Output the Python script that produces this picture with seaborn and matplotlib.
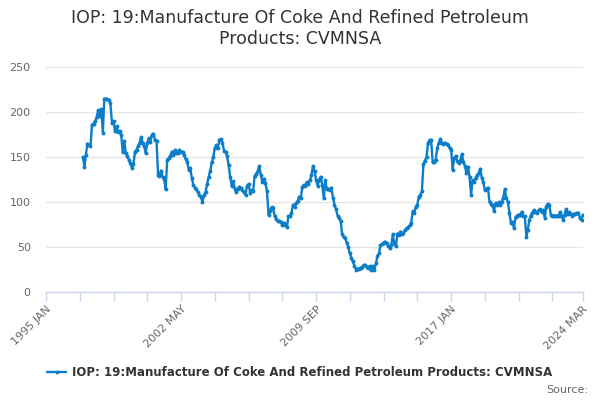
import matplotlib
matplotlib.use('Agg')
import matplotlib.pyplot as plt
import pandas as pd
import seaborn as sns

# monthly values, Jan 1997 .. Mar 2024
values_1997_2002 = [150, 139, 152, 165, 163, 162, 186, 187, 190, 194,
                    202, 196, 203, 177, 214, 215, 214, 213, 210, 188,
                    190, 179, 184, 178, 179, 175, 156, 168, 155, 151,
                    147, 143, 138, 142, 156, 158, 162, 166, 172, 166,
                    162, 154, 166, 171, 167, 175, 176, 169, 168, 130,
                    129, 135, 128, 126, 114, 147, 149, 151, 156, 152,
                    158, 154, 155, 158]
values_2002_2007 = [156, 156, 152, 148, 145, 136, 138, 127, 119, 116,
                    114, 111, 108, 106, 100, 108, 111, 120, 128, 134,
                    144, 150, 160, 163, 160, 169, 170, 166, 157, 156,
                    151, 141, 128, 118, 123, 115, 111, 115, 117, 116,
                    113, 111, 108, 118, 120, 110, 113, 112, 129, 131,
                    134, 140, 130, 122, 126, 121, 112, 86, 90, 94,
                    93, 85, 81, 79]
values_2007_2013 = [79, 78, 75, 77, 75, 72, 84, 84, 88, 97,
                    95, 99, 101, 106, 104, 117, 119, 118, 122, 120,
                    124, 130, 140, 134, 125, 118, 125, 128, 119, 104,
                    124, 115, 115, 113, 116, 105, 97, 92, 85, 82,
                    79, 64, 61, 60, 55, 50, 43, 38, 34, 29,
                    25, 26, 26, 27, 28, 30, 30, 28, 27, 29,
                    25, 29, 24, 32, 40, 43]
values_2013_2018 = [52, 53, 55, 56, 54, 51, 49, 52, 64, 54,
                    51, 65, 63, 67, 65, 66, 69, 71, 72, 74,
                    77, 90, 88, 95, 97, 106, 108, 112, 142, 146,
                    150, 166, 169, 169, 144, 145, 147, 160, 166, 170,
                    166, 164, 166, 164, 163, 160, 158, 136, 149, 151,
                    146, 143, 146, 153, 145, 140, 132, 139, 128, 108,
                    124, 122, 127, 130, 132]
values_2018_2024 = [137, 127, 122, 113, 114, 116, 100, 98, 97, 90,
                    99, 97, 100, 97, 100, 105, 114, 104, 100, 88,
                    77, 78, 71, 83, 85, 86, 86, 89, 84, 84,
                    61, 69, 80, 85, 88, 91, 89, 88, 91, 92,
                    89, 91, 82, 95, 98, 97, 86, 85, 85, 85,
                    85, 84, 89, 85, 80, 86, 92, 87, 89, 87,
                    85, 87, 87, 88, 88, 82, 80, 86]

values = (values_1997_2002 + values_2002_2007 + values_2007_2013
          + values_2013_2018 + values_2018_2024)
dates = pd.date_range('1997-01-01', periods=len(values), freq='MS')

series_name = 'IOP: 19:Manufacture Of Coke And Refined Petroleum Products: CVMNSA'
title = 'IOP: 19:Manufacture Of Coke And Refined Petroleum\nProducts: CVMNSA'

tick_dates = list(pd.date_range('1995-01-01', periods=16, freq='22MS')) + [pd.Timestamp('2024-03-01')]
tick_labels = ['1995 JAN', '', '', '', '2002 MAY', '', '', '', '2009 SEP',
               '', '', '', '2017 JAN', '', '', '', '2024 MAR']

df = pd.DataFrame({'date': dates, 'value': values})

sns.set_style('white')
plt.rcParams['font.family'] = ['DejaVu Sans']

fig = plt.figure(figsize=(6, 4), dpi=100)
ax = fig.add_axes([0.0767, 0.27, 0.895, 0.5625])

sns.lineplot(data=df, x='date', y='value', ax=ax, color='#0b7dc9',
             linewidth=1.7, marker='o', markersize=2.8,
             markeredgewidth=0, label=series_name)

ax.set_ylim(0, 250)
ax.set_yticks([0, 50, 100, 150, 200, 250])
ax.set_xlim(pd.Timestamp('1995-01-01'), pd.Timestamp('2024-03-01'))
ax.set_xticks(tick_dates)
ax.set_xticklabels(tick_labels, rotation=45, ha='right', rotation_mode='anchor')

ax.grid(axis='y', color='#e6e6e6', linewidth=1)
ax.set_axisbelow(True)
for side in ['top', 'right', 'left']:
    ax.spines[side].set_visible(False)
ax.spines['bottom'].set_color('#ccd6eb')
ax.spines['bottom'].set_linewidth(1)

ax.tick_params(axis='y', length=0, pad=11, labelsize=8, labelcolor='#666666')
ax.tick_params(axis='x', length=6.5, width=1, color='#ccd6eb', pad=2,
               labelsize=8, labelcolor='#666666', bottom=True)
ax.set_xlabel('')
ax.set_ylabel('')

fig.text(0.5, 0.978, title, ha='center', va='top', fontsize=12.5,
         color='#333333', linespacing=1.2)

ax.legend_.remove()
handles, labels = ax.get_legend_handles_labels()
leg = fig.legend(handles, labels, loc='center', bbox_to_anchor=(0.5, 0.068),
                 frameon=False, handlelength=1.6, handletextpad=0.5,
                 prop={'size': 8.5, 'weight': 'bold'})
for t in leg.get_texts():
    t.set_color('#333333')

fig.text(0.98, 0.025, 'Source:', ha='right', va='center', fontsize=8,
         color='#666666')

fig.savefig('out.png', dpi=100)
